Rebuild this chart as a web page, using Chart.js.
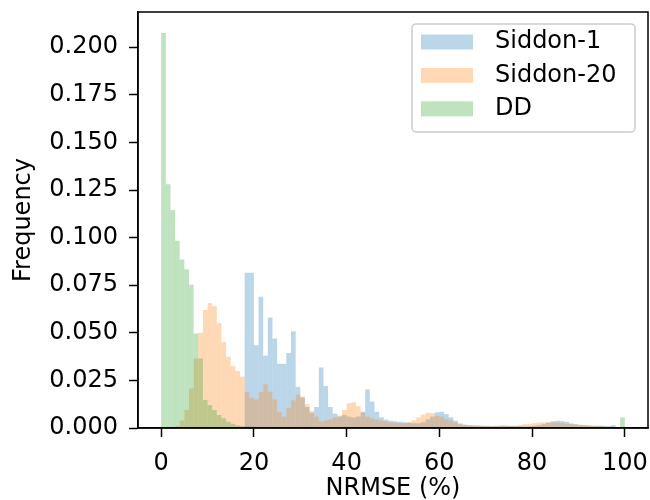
<!DOCTYPE html>
<html>
<head>
<meta charset="utf-8">
<script src="https://cdn.jsdelivr.net/npm/chart.js@4.4.1/dist/chart.umd.min.js"></script>
<style>
  body { margin: 0; background: #fff; }
</style>
</head>
<body>
<canvas id="hist" width="650" height="500"></canvas>
<script>
// 1%-wide NRMSE bins, left edges 0..99
const binLeft = Array.from({ length: 100 }, (_, i) => i);

const siddon1 = [
  0, 0, 0, 0, 0, 0, 0, 0, 0, 0,
  0, 0, 0, 0, 0, 0, 0, 0, 0.0815, 0.0815,
  0.0435, 0.069, 0.038, 0.058, 0.047, 0.0337, 0.0337, 0.0394, 0.0508, 0.0216,
  0.016, 0.011, 0.008, 0.011, 0.0318, 0.022, 0.011, 0.0075, 0.006, 0.0068,
  0.006, 0.0055, 0.006, 0.0085, 0.0203, 0.0138, 0.0085, 0.0056, 0.0044, 0.0038,
  0.0035, 0.0033, 0.003, 0.0028, 0.0025, 0.0025, 0.003, 0.0045, 0.006, 0.0082,
  0.0085, 0.0073, 0.0056, 0.0038, 0.0024, 0.0018, 0.0016, 0.0015, 0.0014, 0.0012,
  0.0012, 0.0011, 0.0012, 0.0014, 0.0013, 0.0011, 0.001, 0.001, 0.0009, 0.001,
  0.0012, 0.0015, 0.002, 0.0028, 0.0035, 0.0038, 0.0036, 0.0032, 0.0024, 0.002,
  0.0017, 0.0015, 0.0013, 0.0012, 0.0013, 0.0012, 0.001, 0.0015, 0.0005, 0.0003
];

const siddon20 = [
  0, 0, 0.0003, 0.001, 0.004, 0.0095, 0.0208, 0.0365, 0.05, 0.062,
  0.0656, 0.0639, 0.0551, 0.0452, 0.0373, 0.0325, 0.03, 0.027, 0.019, 0.016,
  0.015, 0.019, 0.023, 0.019, 0.015, 0.0085, 0.006, 0.0105, 0.0145, 0.0175,
  0.0165, 0.0125, 0.009, 0.006, 0.0035, 0.004, 0.0045, 0.0055, 0.0065, 0.0095,
  0.013, 0.0135, 0.0115, 0.008, 0.006, 0.005, 0.0045, 0.004, 0.0035, 0.003,
  0.0028, 0.0025, 0.0025, 0.003, 0.004, 0.0055, 0.007, 0.008, 0.0078, 0.0065,
  0.006, 0.0045, 0.004, 0.003, 0.002, 0.0015, 0.0012, 0.001, 0.001, 0.001,
  0.0009, 0.0009, 0.0009, 0.001, 0.001, 0.0011, 0.0012, 0.0015, 0.002, 0.0022,
  0.0026, 0.0028, 0.003, 0.003, 0.003, 0.0028, 0.0026, 0.0022, 0.002, 0.0018,
  0.0016, 0.0014, 0.0012, 0.001, 0.0009, 0.0008, 0.0007, 0.0006, 0.0004, 0.0003
];

const dd = [
  0.2075, 0.128, 0.1145, 0.0984, 0.0885, 0.0834, 0.0752, 0.0496, 0.0365, 0.0147,
  0.012, 0.0094, 0.0068, 0.0051, 0.0033, 0.0022, 0.0014, 0.001, 0.0008, 0.0007,
  0.0006, 0.0005, 0.0005, 0.0004, 0.0004, 0.0003, 0.0003, 0.0003, 0.0002, 0.0002,
  0.0002, 0.0001, 0.0001, 0.0001, 0.0001, 0.0001, 0.0001, 0.0001, 0.0001, 0.0001,
  0, 0, 0, 0, 0, 0, 0, 0, 0, 0,
  0, 0, 0, 0, 0, 0, 0, 0, 0, 0,
  0, 0, 0, 0, 0, 0, 0, 0, 0, 0,
  0, 0, 0, 0, 0, 0, 0, 0, 0, 0,
  0, 0, 0, 0, 0, 0, 0, 0, 0, 0,
  0, 0, 0, 0, 0, 0, 0, 0, 0, 0.0056
];

const xTicks = [0, 20, 40, 60, 80, 100];
const yTicks = [0, 0.025, 0.05, 0.075, 0.1, 0.125, 0.15, 0.175, 0.2];

function histPoints(values) {
  return values.map((v, i) => ({ x: binLeft[i] + 0.5, y: v }));
}

Chart.defaults.font.family = '"DejaVu Sans"';
Chart.defaults.font.size = 24;
Chart.defaults.color = '#000';

// matplotlib style legend box, upper right
const legendBox = {
  id: 'legendBox',
  afterDraw(chart) {
    const ctx = chart.ctx;
    ctx.save();
    ctx.fillStyle = 'rgba(255,255,255,0.8)';
    ctx.strokeStyle = '#cccccc';
    ctx.lineWidth = 1.5;
    ctx.beginPath();
    ctx.roundRect(412, 24, 223, 108, 4);
    ctx.fill();
    ctx.stroke();
    ctx.font = '24px "DejaVu Sans"';
    ctx.textBaseline = 'middle';
    chart.data.datasets.forEach((ds, i) => {
      const y = 42 + i * 33.4;
      ctx.fillStyle = ds.backgroundColor;
      ctx.fillRect(421, y - 7.5, 52, 15);
      ctx.fillStyle = '#000';
      ctx.fillText(ds.label, 495, y);
    });
    ctx.restore();
  }
};

// all four spines
const frame = {
  id: 'frame',
  afterDatasetsDraw(chart) {
    const { ctx, chartArea: a } = chart;
    ctx.save();
    ctx.strokeStyle = '#000';
    ctx.lineWidth = 1.5;
    ctx.strokeRect(a.left, a.top, a.right - a.left, a.bottom - a.top);
    ctx.restore();
  }
};

new Chart(document.getElementById('hist'), {
  type: 'bar',
  data: {
    datasets: [
      { label: 'Siddon-1', data: histPoints(siddon1), backgroundColor: 'rgba(31,119,180,0.3)', order: 3 },
      { label: 'Siddon-20', data: histPoints(siddon20), backgroundColor: 'rgba(255,127,14,0.3)', order: 2 },
      { label: 'DD', data: histPoints(dd), backgroundColor: 'rgba(44,160,44,0.3)', order: 1 }
    ]
  },
  options: {
    responsive: false,
    animation: false,
    layout: { padding: { top: 12, right: 2, left: 0, bottom: 0 } },
    datasets: {
      bar: { grouped: false, barPercentage: 1, categoryPercentage: 1, borderWidth: 0, inflateAmount: 0 }
    },
    plugins: { legend: { display: false }, tooltip: { enabled: false } },
    scales: {
      x: {
        type: 'linear',
        offset: false,
        min: -5,
        max: 105,
        afterBuildTicks: s => { s.ticks = xTicks.map(v => ({ value: v })); },
        afterFit: s => { s.height = 72; s.paddingLeft = 0; s.paddingRight = 0; },
        ticks: { padding: 12, callback: v => String(v) },
        grid: { offset: false, drawOnChartArea: false, tickLength: 9, tickColor: '#000', tickWidth: 1.5 },
        border: { color: '#000', width: 1.5 },
        title: { display: true, text: 'NRMSE (%)', padding: { top: 0, bottom: -3 } }
      },
      y: {
        min: 0,
        max: 0.2185,
        afterBuildTicks: s => { s.ticks = yTicks.map(v => ({ value: v })); },
        afterFit: s => { s.width = 138; s.paddingTop = 0; s.paddingBottom = 0; },
        ticks: { padding: 11, callback: v => v.toFixed(3) },
        grid: { drawOnChartArea: false, tickLength: 9, tickColor: '#000', tickWidth: 1.5 },
        border: { color: '#000', width: 1.5 },
        title: { display: true, text: 'Frequency', padding: { top: 9, bottom: 0 } }
      }
    }
  },
  plugins: [frame, legendBox]
});
</script>
</body>
</html>
